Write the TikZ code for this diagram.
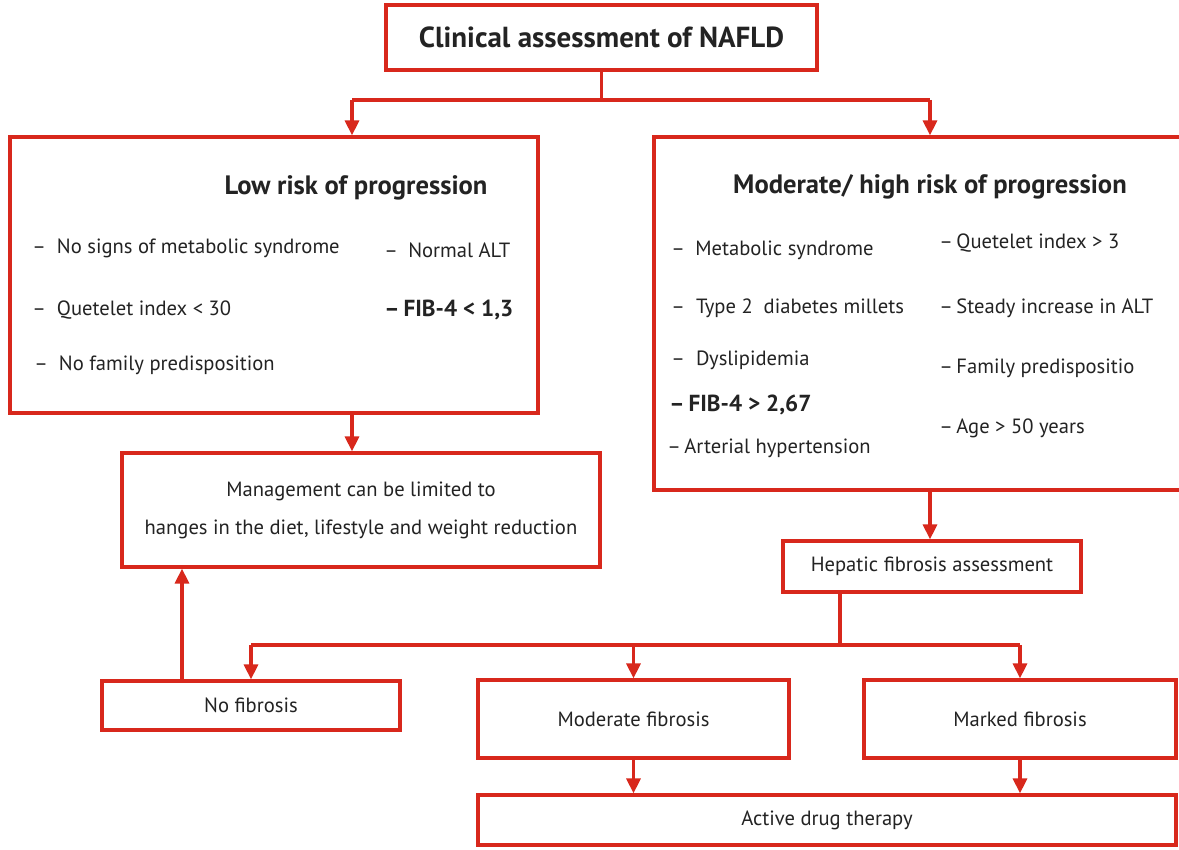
\documentclass[tikz,border=0pt]{standalone}
\usepackage{fontspec}
\setmainfont{PT Sans}
\usetikzlibrary{arrows.meta, positioning}
\definecolor{cLine}{HTML}{D8281C}
\definecolor{cText}{HTML}{232323}

\begin{document}
\begin{tikzpicture}[
  x=0.5pt, y=-0.5pt,
  font=\fontsize{10.3}{12}\selectfont, text=cText,
  >={Triangle[length=7.5pt, width=7pt]},
  box/.style={rectangle, draw=cLine, line width=1.6pt, fill=white,
              inner sep=2pt, align=center},
  item/.style={anchor=west, inner sep=0pt},
  head/.style={font=\fontsize{13.3}{16}\selectfont\bfseries},
  fib/.style={item, font=\fontsize{11.6}{13}\selectfont\bfseries},
  wire/.style={draw=cLine, line width=1.6pt},
  flow/.style={wire, ->},
]
\clip (0,0) rectangle (1179,850);
\fill[white] (0,0) rectangle (1179,850);

% =========================== top : assessment ===========================
\node[box, head, font=\fontsize{14.5}{17}\selectfont\bfseries, minimum width=215.5pt, minimum height=32.5pt] (clin) at (601.5,37.5) {Clinical assessment of NAFLD};

% =========================== risk groups ===========================
\node[box, minimum width=264pt, minimum height=138pt] (low) at (274,275) {};
\node[box, minimum width=268pt, minimum height=176.5pt] (high) at (922,313.5) {};

\node[head] (lowtitle) at (356,188) {Low risk of progression};
\node[head] (hightitle) at (930,187) {Moderate/ high risk of progression};

% low risk criteria
\node[item] (l1) at (32,248) {–~ No signs of metabolic syndrome};
\node[item] (l2) at (384,250) {–\enspace Normal ALT};
\node[item] (l3) at (32,310) {–~ Quetelet index < 30};
\node[fib]  (l4) at (384,310) {–\,FIB-4 < 1,3};
\node[item] (l5) at (34,365) {–~ No family predisposition};

% moderate/high risk criteria
\node[item] (h1) at (671,250) {–\enspace Metabolic syndrome};
\node[item] (h2) at (671,308) {–~ Type 2\ \ diabetes millets};
\node[item] (h3) at (671,360) {–~ Dyslipidemia};
\node[fib]  (h4) at (669,405) {–\,FIB-4 > 2,67};
\node[item] (h5) at (667,448) {–\,Arterial hypertension};
\node[item] (h6) at (939,243) {–\,Quetelet index > 3};
\node[item] (h7) at (939,308) {–\,Steady increase in ALT};
\node[item] (h8) at (939,368) {–\,Family predispositio};
\node[item] (h9) at (939,428) {–\,Age > 50 years};

% =========================== management / fibrosis ===========================
\node[box, minimum width=239pt, minimum height=57pt, font=\fontsize{10.3}{19}\selectfont] (mgmt) at (361,510)
  {Management can be limited to\\hanges in the diet, lifestyle and weight reduction};
\node[box, minimum width=149pt, minimum height=25.5pt] (hep) at (932,566.5) {Hepatic fibrosis assessment};

\node[box, minimum width=149pt, minimum height=24.5pt] (nofib) at (251,705.5) {No fibrosis};
\node[box, minimum width=155.5pt, minimum height=39pt] (moder) at (633.5,719) {Moderate fibrosis};
\node[box, minimum width=156pt, minimum height=39pt] (marked) at (1020,719) {Marked fibrosis};
\node[box, minimum width=349pt, minimum height=25pt] (drug) at (827,820) {Active drug therapy};

% =========================== connectors ===========================
\coordinate (jL) at (352,100);
\coordinate (jR) at (930,100);
\coordinate (jF) at (840,645);
\coordinate (jU) at (182,0);

\draw[wire] (clin.south) -- (clin.south |- jL);
\draw[wire] (jL) -- (jR);
\draw[flow] (jL) -- (jL |- low.north);
\draw[flow] (jR) -- (jR |- high.north);

\draw[flow] (jL |- low.south) -- (jL |- mgmt.north);
\draw[flow] (jR |- high.south) -- (jR |- hep.north);

\draw[wire] (jF |- hep.south) -- (jF);
\draw[wire] (nofib.north |- jF) -- (marked.north |- jF);
\foreach \n in {nofib, moder, marked}
  \draw[flow] (\n.north |- jF) -- (\n.north);

\draw[flow] (jU |- nofib.north) -- (jU |- mgmt.south);
\draw[flow] (moder.south) -- (moder.south |- drug.north);
\draw[flow] (marked.south) -- (marked.south |- drug.north);

\end{tikzpicture}
\end{document}
